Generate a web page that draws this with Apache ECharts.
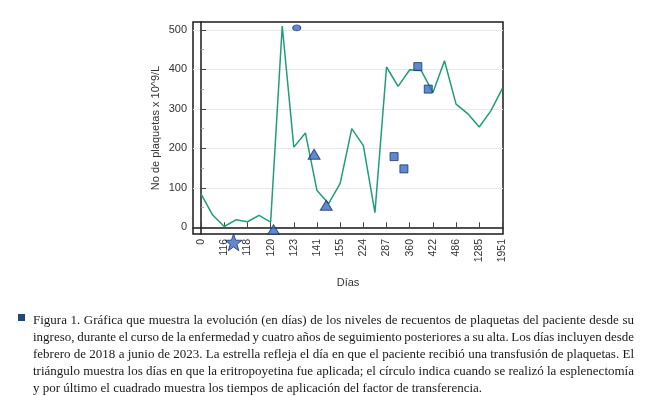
<!DOCTYPE html>
<html>
<head>
<meta charset="utf-8">
<script src="https://cdn.jsdelivr.net/npm/echarts@6/dist/echarts.min.js"></script>
<style>
  html, body { margin: 0; padding: 0; background: #fff; }
  #chart { width: 654px; height: 396px; }
</style>
</head>
<body>
<div id="chart"></div>
<script>
// tick labels on the x axis (every second point carries a label)
var dayLabels = ['0', '116', '118', '120', '123', '141', '155', '224', '287', '360', '422', '486', '1285', '1951'];
// platelet counts, one per point on the x axis
var plaquetas = [84, 31, 2, 19, 14, 30, 13, 510, 203, 239, 93, 60, 111, 250, 207, 37, 406, 357, 399, 397, 341, 422, 312, 288, 254, 295, 352];
var yTicks = [0, 100, 200, 300, 400, 500];

// events: position on the x axis and height
var estrellaX = [2.8], estrellaY = [-38];
var trianguloX = [6.25, 9.75, 10.8], trianguloY = [-6, 185, 56];
var circuloX = [8.25], circuloY = [505];
var cuadradoX = [16.65, 17.5, 18.7, 19.6], cuadradoY = [179, 148, 407, 350];

var caption = [
    'Figura 1. Gráfica que muestra la evolución (en días) de los niveles de recuentos de plaquetas del paciente desde su',
    'ingreso, durante el curso de la enfermedad y cuatro años de seguimiento posteriores a su alta. Los días incluyen desde',
    'febrero de 2018 a junio de 2023. La estrella refleja el día en que el paciente recibió una transfusión de plaquetas. El',
    'triángulo muestra los días en que la eritropoyetina fue aplicada; el círculo indica cuando se realizó la esplenectomía',
    'y por último el cuadrado muestra los tiempos de aplicación del factor de transferencia.'
];

function pares(xs, ys) {
    return xs.map(function (x, i) { return [x, ys[i]]; });
}

var xTicks = [];
for (var i = 0; i < dayLabels.length; i++) xTicks.push(i * 2);

var marca = {
    color: '#3a6bc4',
    borderColor: '#1c3566',
    borderWidth: 1
};

// caption, justified like the printed figure
var capFont = '13px "Liberation Serif", serif';
var capLeft = 33, capWidth = 601;
var ctx = document.createElement('canvas').getContext('2d');
ctx.font = capFont;
var graphics = [{
    type: 'rect',
    left: 18, top: 314,
    shape: {width: 7, height: 7},
    style: {fill: '#1f4a78'}
}];
caption.forEach(function (line, i) {
    var words = line.split(' ');
    var widths = words.map(function (w) { return ctx.measureText(w).width; });
    var total = widths.reduce(function (a, b) { return a + b; }, 0);
    var last = i === caption.length - 1;
    var gap = last ? ctx.measureText(' ').width : (capWidth - total) / (words.length - 1);
    var x = capLeft;
    words.forEach(function (w, k) {
        graphics.push({
            type: 'text',
            x: x, y: 314 + i * 17,
            style: {text: w, font: capFont, fill: '#1a1a1a'}
        });
        x += widths[k] + gap;
    });
});

var myChart = echarts.init(document.getElementById('chart'));
myChart.setOption({
    animation: false,
    textStyle: {fontFamily: '"Liberation Sans", Arial, sans-serif'},
    grid: {
        left: 193, right: 151, top: 22, bottom: 162,
        show: true,
        borderColor: '#1a1a1a',
        borderWidth: 1.5,
        containLabel: false
    },
    xAxis: {
        type: 'value',
        min: -0.7,
        max: 26.05,
        name: 'Días',
        nameLocation: 'middle',
        nameGap: 43,
        nameTextStyle: {fontSize: 11, color: '#333'},
        axisLine: {show: true, lineStyle: {color: '#1a1a1a', width: 1.5}},
        axisTick: {show: true, inside: true, length: 5, customValues: xTicks, lineStyle: {color: '#444'}},
        axisLabel: {
            customValues: xTicks,
            rotate: 90,
            margin: 5,
            fontSize: 10.5,
            color: '#333',
            formatter: function (v) { return dayLabels[Math.round(v / 2)]; }
        },
        splitLine: {show: false}
    },
    yAxis: {
        type: 'value',
        min: -17,
        max: 520,
        name: 'No de plaquetas x 10^9/L',
        nameLocation: 'middle',
        nameGap: 32,
        nameTextStyle: {fontSize: 11, color: '#333'},
        axisLine: {show: true, lineStyle: {color: '#1a1a1a', width: 1.5}},
        axisTick: {show: true, inside: true, length: 5, customValues: yTicks, lineStyle: {color: '#444'}},
        minorTick: {show: true, splitNumber: 2, length: 3, lineStyle: {color: '#aaa'}},
        axisLabel: {customValues: yTicks, fontSize: 11, color: '#333', margin: 6},
        splitLine: {show: true, lineStyle: {color: '#e8e8e8', width: 1}}
    },
    series: [{
        type: 'line',
        data: plaquetas.map(function (v, i) { return [i, v]; }),
        symbol: 'none',
        lineStyle: {color: '#1f9e78', width: 1.5},
        z: 2
    }, {
        type: 'scatter',
        data: pares(estrellaX, estrellaY),
        symbol: 'path://M0,-10 L2.35,-3.24 L9.51,-3.09 L3.8,1.24 L5.88,8.09 L0,4 L-5.88,8.09 L-3.8,1.24 L-9.51,-3.09 L-2.35,-3.24 Z',
        symbolSize: 17,
        itemStyle: marca,
        clip: false,
        z: 5
    }, {
        type: 'scatter',
        data: pares(trianguloX, trianguloY),
        symbol: 'triangle',
        symbolSize: [12, 10],
        itemStyle: marca,
        clip: false,
        z: 5
    }, {
        type: 'scatter',
        data: pares(circuloX, circuloY),
        symbol: 'circle',
        symbolSize: [8, 6],
        itemStyle: marca,
        clip: false,
        z: 5
    }, {
        type: 'scatter',
        data: pares(cuadradoX, cuadradoY),
        symbol: 'rect',
        symbolSize: 8,
        itemStyle: marca,
        clip: false,
        z: 5
    }],
    graphic: graphics
});
</script>
</body>
</html>
